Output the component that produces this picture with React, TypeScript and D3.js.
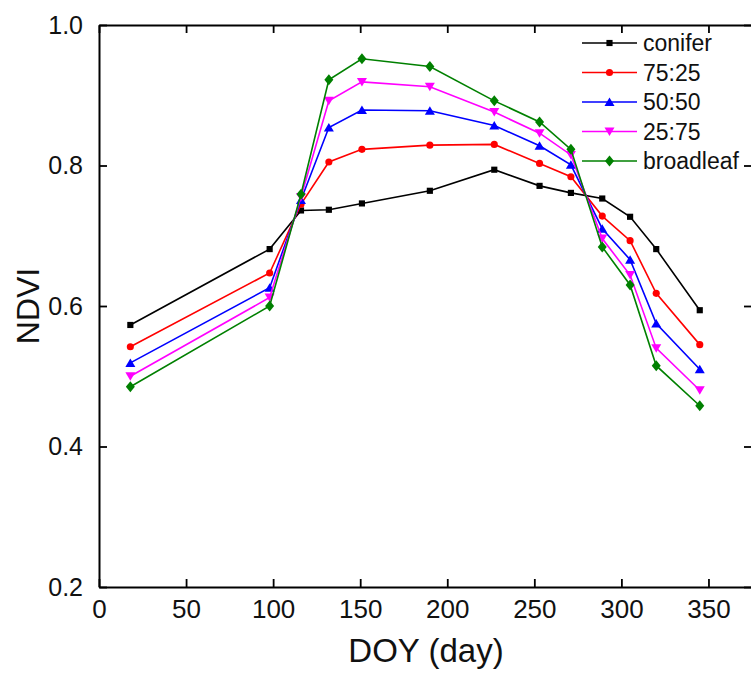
import { useRef, useEffect } from "react";
import * as d3 from "d3";

// day of year of each observation
const doy = [18, 98, 116, 132, 151, 190, 227, 253, 271, 289, 305, 320, 345];

const conifer = [0.573, 0.681, 0.736, 0.737, 0.746, 0.764, 0.794, 0.771, 0.761, 0.753, 0.727, 0.681, 0.594];
const mix7525 = [0.542, 0.647, 0.745, 0.805, 0.823, 0.829, 0.830, 0.803, 0.784, 0.728, 0.693, 0.618, 0.545];
const mix5050 = [0.519, 0.626, 0.751, 0.854, 0.879, 0.878, 0.857, 0.828, 0.801, 0.710, 0.666, 0.575, 0.510];
const mix2575 = [0.500, 0.612, 0.755, 0.892, 0.919, 0.912, 0.876, 0.846, 0.815, 0.696, 0.644, 0.540, 0.480];
const broadleaf = [0.485, 0.600, 0.759, 0.922, 0.952, 0.941, 0.892, 0.862, 0.823, 0.684, 0.630, 0.515, 0.458];

const seriesNames = ["conifer", "75:25", "50:50", "25:75", "broadleaf"];
const seriesColors = ["#000000", "#ff0000", "#0000ff", "#ff00ff", "#008000"];
const seriesShapes = ["square", "circle", "triangle", "triangleDown", "diamond"];
const seriesValues = [conifer, mix7525, mix5050, mix2575, broadleaf];

const xTicks = [0, 50, 100, 150, 200, 250, 300, 350];
const yTicks = [0.2, 0.4, 0.6, 0.8, 1.0];

const width = 751;
const height = 675;
const left = 99;
const right = 752;
const top = 25;
const bottom = 587;
const font = "'Liberation Sans', Arial, sans-serif";

const symbolFor = (shape) => {
  if (shape === "square") return d3.symbol(d3.symbolSquare, 38)();
  if (shape === "circle") return d3.symbol(d3.symbolCircle, 40)();
  if (shape === "diamond") return "M0,-5.5L4.5,0L0,5.5L-4.5,0Z";
  if (shape === "triangle") return "M0,-4.5L5,4L-5,4Z";
  return "M0,4.5L5,-4L-5,-4Z";
};

const App = () => {
  const svgRef = useRef();

  useEffect(() => {
    const svg = d3.select(svgRef.current);
    svg.selectAll("*").remove();

    const x = d3.scaleLinear().domain([0, 375]).range([left, right]);
    const y = d3.scaleLinear().domain([0.2, 1.0]).range([bottom, top]);

    const g = svg.append("g");

    // series lines + markers
    seriesValues.forEach((vals, i) => {
      const pts = doy.map((d, j) => [d, vals[j]]);
      const line = d3
        .line()
        .x((d) => x(d[0]))
        .y((d) => y(d[1]));
      g.append("path")
        .attr("d", line(pts))
        .attr("fill", "none")
        .attr("stroke", seriesColors[i])
        .attr("stroke-width", 1.6);
      g.selectAll(null)
        .data(pts)
        .enter()
        .append("path")
        .attr("d", symbolFor(seriesShapes[i]))
        .attr("transform", (d) => `translate(${x(d[0])},${y(d[1])})`)
        .attr("fill", seriesColors[i]);
    });

    // frame axes with inward ticks
    const bottomAxis = d3.axisBottom(x).tickValues(xTicks).tickSizeInner(-8).tickSizeOuter(0).tickPadding(13);
    const topAxis = d3.axisTop(x).tickValues(xTicks).tickSizeInner(-8).tickSizeOuter(0).tickFormat(() => "");
    const leftAxis = d3.axisLeft(y).tickValues(yTicks).tickSizeInner(-8).tickSizeOuter(0).tickPadding(16).tickFormat(d3.format(".1f"));
    const rightAxis = d3.axisRight(y).tickValues(yTicks).tickSizeInner(-8).tickSizeOuter(0).tickFormat(() => "");

    const ax = [
      [bottomAxis, `translate(0,${bottom})`, "26px"],
      [topAxis, `translate(0,${top})`, "25px"],
      [leftAxis, `translate(${left},0)`, "25px"],
      [rightAxis, `translate(${right},0)`, "25px"],
    ];
    ax.forEach(([a, t, fs]) => {
      const s = svg.append("g").attr("transform", t).call(a);
      s.select(".domain").attr("stroke", "#000").attr("stroke-width", 2);
      s.selectAll(".tick line").attr("stroke", "#000").attr("stroke-width", 1.8);
      s.selectAll(".tick text")
        .attr("fill", "#111")
        .style("font-family", font)
        .style("font-size", fs);
    });

    // titles
    svg
      .append("text")
      .attr("x", 426)
      .attr("y", 662)
      .attr("text-anchor", "middle")
      .style("font-family", font)
      .style("font-size", "33px")
      .attr("fill", "#111")
      .text("DOY (day)");

    svg
      .append("text")
      .attr("transform", `translate(39,${y(0.6)}) rotate(-90)`)
      .attr("text-anchor", "middle")
      .style("font-family", font)
      .style("font-size", "32px")
      .attr("fill", "#111")
      .text("NDVI");

    // legend
    const legend = svg
      .selectAll(".legend")
      .data(seriesNames)
      .enter()
      .append("g")
      .attr("class", "legend")
      .attr("transform", (d, i) => `translate(582,${43 + i * 29.5})`);

    legend
      .append("line")
      .attr("x1", 0)
      .attr("x2", 55)
      .attr("stroke", (d, i) => seriesColors[i])
      .attr("stroke-width", 1.6);

    legend
      .append("path")
      .attr("d", (d, i) => symbolFor(seriesShapes[i]))
      .attr("transform", "translate(27.5,0)")
      .attr("fill", (d, i) => seriesColors[i]);

    legend
      .append("text")
      .attr("x", 61)
      .attr("dy", "0.35em")
      .style("font-family", font)
      .style("font-size", "23px")
      .attr("fill", "#111")
      .text((d) => d);
  }, []);

  return (
    <div style={{ position: "absolute", left: 0, top: 0 }}>
      <svg ref={svgRef} width={width} height={height} style={{ display: "block", background: "#fff" }}></svg>
    </div>
  );
};

export default App;
